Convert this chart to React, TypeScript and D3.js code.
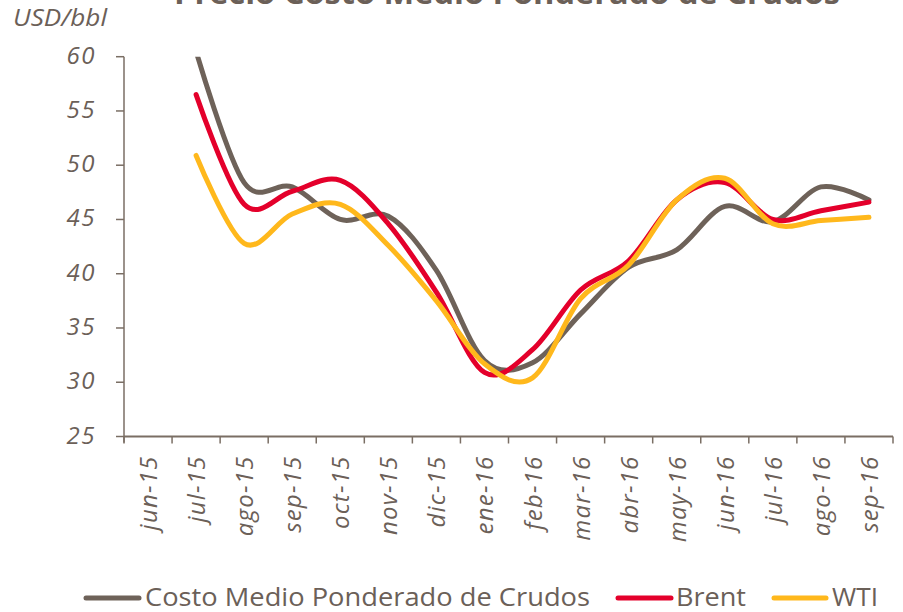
import React, { useRef, useEffect } from "react";
import * as d3 from "d3";

const months = ["jun-15", "jul-15", "ago-15", "sep-15", "oct-15", "nov-15", "dic-15", "ene-16", "feb-16", "mar-16", "abr-16", "may-16", "jun-16", "jul-16", "ago-16", "sep-16"];
// series start at jul-15 (no value for jun-15)
const dataMonths = months.slice(1);
const costo = [60.5, 48.4, 48.0, 45.0, 45.3, 40.3, 32.0, 31.8, 36.3, 40.6, 42.2, 46.2, 44.8, 48.0, 46.8];
const brent = [56.5, 46.4, 47.6, 48.6, 44.6, 38.3, 30.9, 33.0, 38.5, 41.2, 46.8, 48.4, 45.0, 45.8, 46.6];
const wti = [50.9, 42.8, 45.5, 46.4, 42.6, 37.5, 31.7, 30.4, 37.7, 40.8, 46.8, 48.8, 44.6, 44.9, 45.2];
const yTicks = [25, 30, 35, 40, 45, 50, 55, 60];

const series = [
  { name: "Costo Medio Ponderado de Crudos", values: costo, color: "#6e6259" },
  { name: "Brent", values: brent, color: "#e4002b" },
  { name: "WTI", values: wti, color: "#ffb81c" },
];

const textColor = "#6b6058";
const font = "'Open Sans', 'DejaVu Sans', sans-serif";

export default function App() {
  const svgRef = useRef<SVGSVGElement | null>(null);

  useEffect(() => {
    const svg = d3.select(svgRef.current);
    svg.selectAll("*").remove();

    const left = 124, right = 893, top = 56.7, bottom = 436.5;

    const x = d3.scaleBand().domain(months).range([left, right]).paddingInner(0).paddingOuter(0);
    const y = d3.scaleLinear().domain([25, 60]).range([bottom, top]);
    const cx = (m: string) => (x(m) as number) + x.bandwidth() / 2;

    // title (cut off by the top edge, as in the source)
    svg.append("text")
      .attr("x", 507).attr("y", 4)
      .attr("text-anchor", "middle")
      .attr("font-family", font)
      .attr("font-weight", 700)
      .attr("font-size", 30)
      .attr("fill", textColor)
      .attr("textLength", 666)
      .attr("lengthAdjust", "spacingAndGlyphs")
      .text("Precio Costo Medio Ponderado de Crudos");

    svg.append("text")
      .attr("x", 13).attr("y", 26)
      .attr("font-family", font)
      .attr("font-style", "italic")
      .attr("font-size", 23)
      .attr("fill", textColor)
      .attr("textLength", 94)
      .attr("lengthAdjust", "spacingAndGlyphs")
      .text("USD/bbl");

    // y axis
    const axisColor = "#7a6e64";
    svg.append("line")
      .attr("x1", left).attr("x2", left)
      .attr("y1", top).attr("y2", bottom + 6)
      .attr("stroke", axisColor).attr("stroke-width", 1.5);
    const yg = svg.append("g");
    yg.selectAll("line").data(yTicks).enter().append("line")
      .attr("x1", left - 8).attr("x2", left)
      .attr("y1", d => y(d)).attr("y2", d => y(d))
      .attr("stroke", axisColor).attr("stroke-width", 1.5);
    yg.selectAll("text").data(yTicks).enter().append("text")
      .attr("x", 96).attr("y", d => y(d) + 7)
      .attr("text-anchor", "end")
      .attr("font-family", font)
      .attr("font-style", "italic")
      .attr("font-size", 24)
      .attr("letter-spacing", 1.5)
      .attr("fill", textColor)
      .text(d => d);

    // x axis
    svg.append("line")
      .attr("x1", left).attr("x2", right)
      .attr("y1", bottom).attr("y2", bottom)
      .attr("stroke", axisColor).attr("stroke-width", 2);
    const bounds = d3.range(months.length + 1).map(i => left + i * x.bandwidth());
    svg.append("g").selectAll("line").data(bounds).enter().append("line")
      .attr("x1", d => d).attr("x2", d => d)
      .attr("y1", bottom).attr("y2", bottom + 7)
      .attr("stroke", axisColor).attr("stroke-width", 1.5);
    svg.append("g").selectAll("text").data(months).enter().append("text")
      .attr("transform", d => `translate(${cx(d) + 9},${bottom + 19}) rotate(-90)`)
      .attr("text-anchor", "end")
      .attr("font-family", font)
      .attr("font-style", "italic")
      .attr("font-size", 24)
      .attr("letter-spacing", 1.2)
      .attr("fill", textColor)
      .text(d => d);

    // lines
    svg.append("clipPath").attr("id", "plot-clip")
      .append("rect")
      .attr("x", left).attr("y", top)
      .attr("width", right - left + 10).attr("height", bottom - top);

    const line = d3.line<number>()
      .x((_, i) => cx(dataMonths[i]))
      .y(d => y(d))
      .curve(d3.curveCardinal.tension(0));

    svg.append("g").attr("clip-path", "url(#plot-clip)")
      .selectAll("path").data(series).enter().append("path")
      .attr("d", d => line(d.values))
      .attr("fill", "none")
      .attr("stroke", d => d.color)
      .attr("stroke-width", 5)
      .attr("stroke-linecap", "round")
      .attr("stroke-linejoin", "round");

    // legend
    const legend = [
      { x1: 86, x2: 139, tx: 145, tw: 445 },
      { x1: 618, x2: 671, tx: 676, tw: 70 },
      { x1: 774, x2: 826, tx: 832, tw: 46 },
    ];
    const lg = svg.append("g");
    series.forEach((s, i) => {
      const p = legend[i];
      lg.append("line")
        .attr("x1", p.x1).attr("x2", p.x2)
        .attr("y1", 598).attr("y2", 598)
        .attr("stroke", s.color).attr("stroke-width", 5)
        .attr("stroke-linecap", "round");
      lg.append("text")
        .attr("x", p.tx).attr("y", 606)
        .attr("font-family", font)
        .attr("font-size", 25)
        .attr("fill", textColor)
        .attr("textLength", p.tw)
        .attr("lengthAdjust", "spacingAndGlyphs")
        .text(s.name);
    });
  }, []);

  return (
    <svg ref={svgRef} width={903} height={612}
      style={{ position: "absolute", left: 0, top: 0, background: "#fff" }} />
  );
}
